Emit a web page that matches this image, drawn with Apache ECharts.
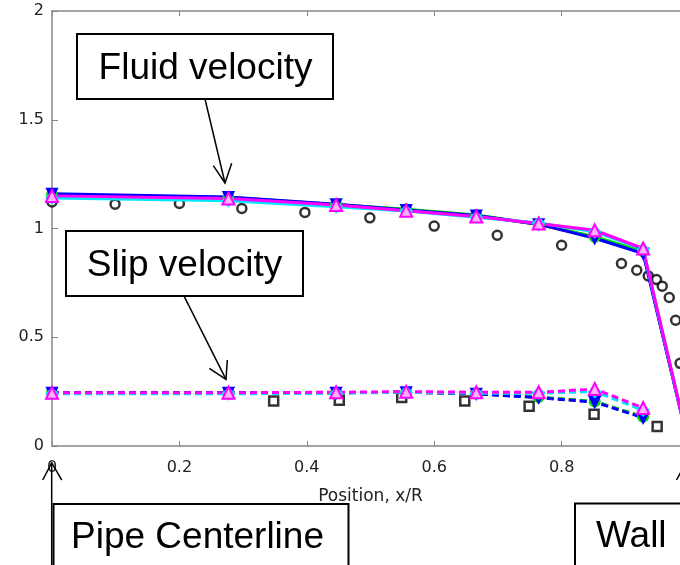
<!DOCTYPE html>
<html>
<head>
<meta charset="utf-8">
<script src="https://cdn.jsdelivr.net/npm/echarts@6/dist/echarts.min.js"></script>
<style>html,body{margin:0;padding:0;background:#fff;}#c{width:680px;height:565px;}</style>
</head>
<body>
<div id="c"></div>
<script>
// ---- data ----
var modelX = [0, 0.277, 0.446, 0.556, 0.666, 0.764, 0.852, 0.928, 1.0];
var fluidRed     = [1.155, 1.142, 1.110, 1.086, 1.060, 1.018, 0.960, 0.892, 0];
var fluidGreen   = [1.155, 1.142, 1.110, 1.088, 1.062, 1.020, 0.962, 0.895, 0];
var fluidBlue    = [1.160, 1.145, 1.112, 1.085, 1.060, 1.020, 0.955, 0.885, 0];
var fluidCyan    = [1.140, 1.128, 1.100, 1.080, 1.052, 1.025, 0.985, 0.905, 0];
var fluidMagenta = [1.150, 1.138, 1.108, 1.082, 1.055, 1.023, 0.992, 0.908, 0];

var slipX = [0, 0.277, 0.446, 0.556, 0.666, 0.764, 0.852, 0.928];
var slipRed     = [0.245, 0.245, 0.245, 0.247, 0.240, 0.224, 0.204, 0.133];
var slipGreen   = [0.245, 0.245, 0.245, 0.247, 0.240, 0.225, 0.205, 0.135];
var slipBlue    = [0.245, 0.245, 0.245, 0.247, 0.240, 0.222, 0.202, 0.130];
var slipCyan    = [0.240, 0.240, 0.243, 0.247, 0.243, 0.243, 0.250, 0.165];
var slipMagenta = [0.245, 0.245, 0.247, 0.250, 0.247, 0.247, 0.262, 0.175];

var expFluidX = [0, 0.099, 0.2, 0.298, 0.397, 0.499, 0.6, 0.699, 0.8, 0.894, 0.918, 0.936, 0.949, 0.958, 0.969, 0.979, 0.986];
var expFluidY = [1.122, 1.112, 1.115, 1.092, 1.074, 1.049, 1.011, 0.969, 0.923, 0.839, 0.808, 0.782, 0.765, 0.735, 0.683, 0.578, 0.380];

var expSlipX = [0.348, 0.451, 0.549, 0.648, 0.749, 0.851, 0.95];
var expSlipY = [0.207, 0.210, 0.223, 0.207, 0.183, 0.146, 0.090];

var xTicks = ['0', '0.2', '0.4', '0.6', '0.8', '1'];
var yTicks = ['0', '0.5', '1', '1.5', '2'];
var xTitle = 'Position, x/R';

// ---- build ----
function pairs(xs, ys) { return xs.map(function (x, i) { return [x, ys[i]]; }); }

var colors = { red: '#ff0000', green: '#00e000', blue: '#0000ff', cyan: '#00e8ff', magenta: '#ff00ff' };
var markers = {
  red: { symbol: 'circle', size: 8, fill: true },
  green: { symbol: 'circle', size: 10, fill: true },
  blue: { symbol: 'triangle', size: 10, fill: true, rotate: 180 },
  cyan: { symbol: 'diamond', size: 11, fill: true },
  magenta: { symbol: 'triangle', size: 12, fill: false }
};

function modelSeries(name, key, ys, xs, dashed) {
  var m = markers[key];
  return {
    name: name, type: 'line', data: pairs(xs, ys),
    symbol: m.symbol,
    symbolSize: m.size, symbolRotate: m.rotate || 0,
    showAllSymbol: true, animation: false, clip: true,
    lineStyle: { color: colors[key], width: 3, type: dashed ? [7, 4] : 'solid' },
    itemStyle: { color: m.fill ? colors[key] : '#ffb0ff', borderColor: colors[key], borderWidth: 2 },
    emphasis: { disabled: true }
  };
}

var series = [
  {
    name: 'expFluid', type: 'scatter', data: pairs(expFluidX, expFluidY),
    symbol: 'circle', symbolSize: 9, animation: false,
    itemStyle: { color: '#fff', borderColor: '#000', borderWidth: 2.5 },
    emphasis: { disabled: true }
  },
  {
    name: 'expSlip', type: 'scatter', data: pairs(expSlipX, expSlipY),
    symbol: 'rect', symbolSize: 9, animation: false,
    itemStyle: { color: '#fff', borderColor: '#000', borderWidth: 2.5 },
    emphasis: { disabled: true }
  },
  modelSeries('fr', 'red', fluidRed, modelX, false),
  modelSeries('fg', 'green', fluidGreen, modelX, false),
  modelSeries('fb', 'blue', fluidBlue, modelX, false),
  modelSeries('fc', 'cyan', fluidCyan, modelX, false),
  modelSeries('fm', 'magenta', fluidMagenta, modelX, false),
  modelSeries('sr', 'red', slipRed, slipX, true),
  modelSeries('sg', 'green', slipGreen, slipX, true),
  modelSeries('sb', 'blue', slipBlue, slipX, true),
  modelSeries('sc', 'cyan', slipCyan, slipX, true),
  modelSeries('sm', 'magenta', slipMagenta, slipX, true)
];

var tickFont = { fontFamily: 'DejaVu Sans', fontSize: 16, color: '#222' };
var axisGray = '#888';

var chart = echarts.init(document.getElementById('c'), null, { renderer: 'canvas' });
chart.setOption({
  backgroundColor: '#fff',
  animation: false,
  grid: { left: 52, top: 11, width: 637, height: 435, containLabel: false, outerBoundsMode: 'none' },
  xAxis: [{
    type: 'value', min: 0, max: 1, interval: 0.2, position: 'bottom',
    name: xTitle, nameLocation: 'middle', nameGap: 42,
    nameTextStyle: { fontFamily: 'DejaVu Sans', fontSize: 17, color: '#222' },
    axisLine: { show: true, lineStyle: { color: axisGray, width: 1.5 } },
    axisTick: { show: true, inside: true, length: 5, lineStyle: { color: axisGray } },
    axisLabel: Object.assign({ margin: 14, formatter: function (v) { var i = Math.round(v / 0.2); return xTicks[i]; } }, tickFont),
    splitLine: { show: false }
  }, {
    type: 'value', min: 0, max: 1, interval: 0.2, position: 'top',
    axisLine: { show: true, lineStyle: { color: axisGray, width: 1.5 } },
    axisTick: { show: true, inside: true, length: 5, lineStyle: { color: axisGray } },
    axisLabel: { show: false }, splitLine: { show: false }
  }],
  yAxis: [{
    type: 'value', min: 0, max: 2, interval: 0.5, position: 'left',
    axisLine: { show: true, lineStyle: { color: axisGray, width: 1.5 } },
    axisTick: { show: true, inside: true, length: 6, lineStyle: { color: axisGray } },
    axisLabel: Object.assign({ margin: 8, formatter: function (v) { var i = Math.round(v / 0.5); return yTicks[i]; } }, tickFont),
    splitLine: { show: false }
  }],
  series: series.map(function (s) { s.xAxisIndex = 0; s.yAxisIndex = 0; return s; }),
  graphic: [
    // Fluid velocity box + arrow
    { type: 'rect', shape: { x: 77, y: 34, width: 256, height: 65 }, style: { fill: null, stroke: '#000', lineWidth: 2 }, z: 100 },
    { type: 'text', x: 205.5, y: 68.5, style: { text: 'Fluid velocity', font: '37px "Liberation Sans"', fill: '#000', textAlign: 'center', textVerticalAlign: 'middle' }, z: 100 },
    { type: 'line', shape: { x1: 205, y1: 99, x2: 225, y2: 183 }, style: { stroke: '#000', lineWidth: 1.5 }, z: 100 },
    { type: 'polyline', shape: { points: [[213.3, 165.7], [225, 183], [231.7, 163.3]] }, style: { stroke: '#000', lineWidth: 1.5, fill: null }, z: 100 },
    // Slip velocity box + arrow
    { type: 'rect', shape: { x: 66, y: 231, width: 237, height: 65 }, style: { fill: null, stroke: '#000', lineWidth: 2 }, z: 100 },
    { type: 'text', x: 184.5, y: 266, style: { text: 'Slip velocity', font: '37px "Liberation Sans"', fill: '#000', textAlign: 'center', textVerticalAlign: 'middle' }, z: 100 },
    { type: 'line', shape: { x1: 184.3, y1: 296.7, x2: 226, y2: 379.3 }, style: { stroke: '#000', lineWidth: 1.5 }, z: 100 },
    { type: 'polyline', shape: { points: [[209.3, 368.3], [226, 379.3], [227.3, 360]] }, style: { stroke: '#000', lineWidth: 1.5, fill: null }, z: 100 },
    // Pipe Centerline box + arrow
    { type: 'rect', shape: { x: 53.5, y: 504, width: 295, height: 90 }, style: { fill: null, stroke: '#000', lineWidth: 2 }, z: 100 },
    { type: 'text', x: 71, y: 537.5, style: { text: 'Pipe Centerline', font: '37px "Liberation Sans"', fill: '#000', textAlign: 'left', textVerticalAlign: 'middle' }, z: 100 },
    { type: 'line', shape: { x1: 51.7, y1: 580, x2: 51.7, y2: 462.7 }, style: { stroke: '#000', lineWidth: 1.5 }, z: 100 },
    { type: 'polyline', shape: { points: [[42.7, 480], [51.7, 462.7], [61.7, 480]] }, style: { stroke: '#000', lineWidth: 1.5, fill: null }, z: 100 },
    // Wall box + arrow
    { type: 'rect', shape: { x: 575, y: 503.5, width: 200, height: 90 }, style: { fill: null, stroke: '#000', lineWidth: 2 }, z: 100 },
    { type: 'text', x: 596, y: 537, style: { text: 'Wall', font: '37px "Liberation Sans"', fill: '#000', textAlign: 'left', textVerticalAlign: 'middle' }, z: 100 },
    { type: 'line', shape: { x1: 686, y1: 580, x2: 686, y2: 462.7 }, style: { stroke: '#000', lineWidth: 1.5 }, z: 100 },
    { type: 'polyline', shape: { points: [[676.5, 480], [686, 462.7], [695.5, 480]] }, style: { stroke: '#000', lineWidth: 1.5, fill: null }, z: 100 }
  ]
});
</script>
</body>
</html>
